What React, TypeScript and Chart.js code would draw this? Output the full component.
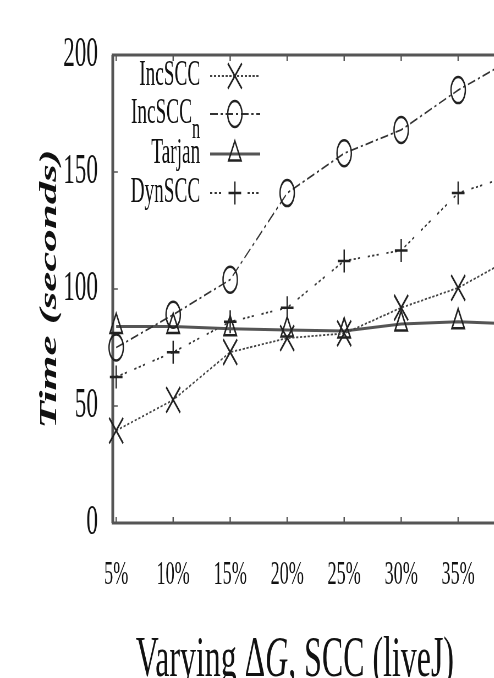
import React, { useEffect, useRef } from 'react';
import { Chart, registerables } from 'chart.js';

Chart.register(...registerables);

// ---- data ----
const xPercent = [5, 10, 15, 20, 25, 30, 35, 40];
const incScc = [39.5, 52.6, 73, 79, 81, 92, 100.5, 114];
const incSccN = [75, 89, 104, 141, 158, 168, 185, 199];
const tarjan = [84, 84, 83, 82.5, 82, 85, 86, 85];
const dynScc = [62.4, 73, 86, 92, 112, 116.5, 141, 149];
const yTicks = [0, 50, 100, 150, 200];
const seriesNames = ['IncSCC', 'IncSCC', 'Tarjan', 'DynSCC'];
const seriesSubscripts = ['', 'n', '', ''];
const yTitle = 'Time (seconds)';
const titleParts: [string, boolean][] = [['Varying \u0394', false], ['G', true], [', SCC (liveJ)', false]];

// ---- presentation ----
const SX = 0.55; // horizontal squeeze of the whole figure
const W = 1072;
const H = 678;
const FONT = '"Liberation Serif", "Times New Roman", serif';
const INK = '#111';
const FRAME = '#555';

const seriesStyle = [
  { dash: [4, 3], point: 'crossRot', r: 18, width: 1.8, color: '#444' },
  { dash: [14, 5, 4, 5], point: 'circle', r: 13, width: 1.8, color: '#333' },
  { dash: [], point: 'triangle', r: 13, width: 3, color: '#555' },
  { dash: [4, 4, 4, 4, 4, 14], point: 'cross', r: 11.5, width: 1.8, color: '#333' },
];
const seriesData = [incScc, incSccN, tarjan, dynScc];

function drawMarker(ctx: CanvasRenderingContext2D, style: string, x: number, y: number, r: number) {
  ctx.beginPath();
  if (style === 'crossRot') {
    const d = r * Math.SQRT1_2;
    ctx.moveTo(x - d, y - d); ctx.lineTo(x + d, y + d);
    ctx.moveTo(x - d, y + d); ctx.lineTo(x + d, y - d);
  } else if (style === 'circle') {
    ctx.arc(x, y, r, 0, Math.PI * 2);
  } else if (style === 'triangle') {
    ctx.moveTo(x, y - r);
    ctx.lineTo(x + r * 0.866, y + r / 2);
    ctx.lineTo(x - r * 0.866, y + r / 2);
    ctx.closePath();
  } else {
    ctx.moveTo(x, y - r); ctx.lineTo(x, y + r);
    ctx.moveTo(x - r, y); ctx.lineTo(x + r, y);
  }
  ctx.stroke();
}

const framePlugin = {
  id: 'frame',
  beforeDatasetsDraw(chart: any) {
    const { ctx, chartArea: a, scales } = chart;
    const line = (x1: number, y1: number, x2: number, y2: number) => {
      ctx.beginPath(); ctx.moveTo(x1, y1); ctx.lineTo(x2, y2); ctx.stroke();
    };
    ctx.save();
    ctx.strokeStyle = FRAME;
    ctx.lineWidth = 2.5;
    xPercent.forEach((v) => {
      const px = scales.x.getPixelForValue(v);
      line(px, a.bottom, px, a.bottom - 6);
      line(px, a.top, px, a.top + 6);
    });
    ctx.lineWidth = 1.5;
    yTicks.forEach((v) => {
      const py = scales.y.getPixelForValue(v);
      line(a.left, py, a.left + 9, py);
    });
    ctx.lineWidth = 3;
    line(a.left - 2, a.top, a.right, a.top);
    line(a.left - 2, a.bottom, a.right, a.bottom);
    ctx.lineWidth = 5;
    line(a.left, a.top, a.left, a.bottom);
    line(a.right, a.top, a.right, a.bottom);
    ctx.restore();
  },
  afterDraw(chart: any) {
    const { ctx } = chart;
    ctx.save();
    // legend
    const textRight = 364;
    const lx1 = 382, lx2 = 473, mx = 427;
    const rows = [76, 114, 154, 193];
    seriesNames.forEach((name, i) => {
      const y = rows[i];
      const st = seriesStyle[i];
      ctx.fillStyle = INK;
      ctx.textBaseline = 'middle';
      ctx.textAlign = 'right';
      let right = textRight;
      if (seriesSubscripts[i]) {
        ctx.font = `30px ${FONT}`;
        const sw = ctx.measureText(seriesSubscripts[i]).width;
        ctx.fillText(seriesSubscripts[i], textRight, y + 16);
        right = textRight - sw;
      }
      ctx.font = `35px ${FONT}`;
      ctx.fillText(name, right, y);
      ctx.strokeStyle = st.color;
      ctx.lineWidth = st.width;
      ctx.setLineDash(st.dash);
      ctx.beginPath(); ctx.moveTo(lx1, y); ctx.lineTo(lx2, y); ctx.stroke();
      ctx.setLineDash([]);
      ctx.strokeStyle = '#222';
      ctx.lineWidth = 2.5;
      drawMarker(ctx, st.point, mx, y, st.r);
    });
    // bottom title
    const cx = 536;
    const baseY = 676;
    const fontFor = (it: boolean) => `${it ? 'italic ' : ''}58px ${FONT}`;
    let total = 0;
    titleParts.forEach(([t, it]) => { ctx.font = fontFor(it); total += ctx.measureText(t).width; });
    let x = cx - total / 2;
    ctx.textAlign = 'left';
    ctx.textBaseline = 'alphabetic';
    ctx.fillStyle = INK;
    titleParts.forEach(([t, it]) => {
      ctx.font = fontFor(it);
      ctx.fillText(t, x, baseY);
      x += ctx.measureText(t).width;
    });
    ctx.restore();
  },
};

export default function App() {
  const ref = useRef<HTMLCanvasElement>(null);
  useEffect(() => {
    if (!ref.current) return;
    const chart = new Chart(ref.current, {
      type: 'line',
      data: {
        datasets: seriesData.map((vals, i) => ({
          label: seriesNames[i] + seriesSubscripts[i],
          data: vals.map((v, j) => ({ x: xPercent[j], y: v })),
          borderColor: seriesStyle[i].color,
          borderWidth: seriesStyle[i].width,
          borderDash: seriesStyle[i].dash,
          pointStyle: seriesStyle[i].point as any,
          pointRadius: seriesStyle[i].r,
          pointBorderColor: '#222',
          pointBorderWidth: 2.5,
          pointBackgroundColor: 'rgba(0,0,0,0)',
          tension: 0,
          fill: false,
          clip: false as any,
        })),
      },
      options: {
        responsive: false,
        animation: false,
        devicePixelRatio: 1,
        layout: { padding: { top: 55, right: 40, bottom: 0, left: 0 } },
        plugins: { legend: { display: false }, tooltip: { enabled: false }, title: { display: false } },
        scales: {
          x: {
            type: 'linear',
            min: 4.7,
            max: 44.6,
            grid: { display: false, drawTicks: false },
            border: { display: false },
            afterBuildTicks: (s: any) => { s.ticks = xPercent.map((v) => ({ value: v })); },
            afterFit: (s: any) => { s.height = 155; },
            ticks: {
              callback: (v: any) => `${v}%`,
              font: { family: FONT, size: 33 },
              color: INK,
              padding: 33,
              maxRotation: 0,
              autoSkip: false,
            },
          },
          y: {
            min: 0,
            max: 200,
            grid: { display: false, drawTicks: false },
            border: { display: false },
            afterBuildTicks: (s: any) => { s.ticks = yTicks.map((v) => ({ value: v })); },
            afterFit: (s: any) => { s.width = 205; },
            ticks: {
              font: { family: FONT, size: 42 },
              color: INK,
              padding: 27,
            },
            title: {
              display: true,
              text: yTitle,
              font: { family: FONT, size: 45, weight: 'bold', style: 'italic', lineHeight: 1 },
              color: INK,
              padding: { top: 68, bottom: 0 },
            },
          },
        },
      },
      plugins: [framePlugin],
    });
    return () => chart.destroy();
  }, []);

  return (
    <div style={{ position: 'fixed', left: 0, top: 0, width: 494, height: 678, overflow: 'hidden', background: '#fff' }}>
      <div style={{ transform: `scaleX(${SX})`, transformOrigin: '0 0', width: W, height: H }}>
        <canvas ref={ref} width={W} height={H} style={{ display: 'block' }} />
      </div>
    </div>
  );
}
